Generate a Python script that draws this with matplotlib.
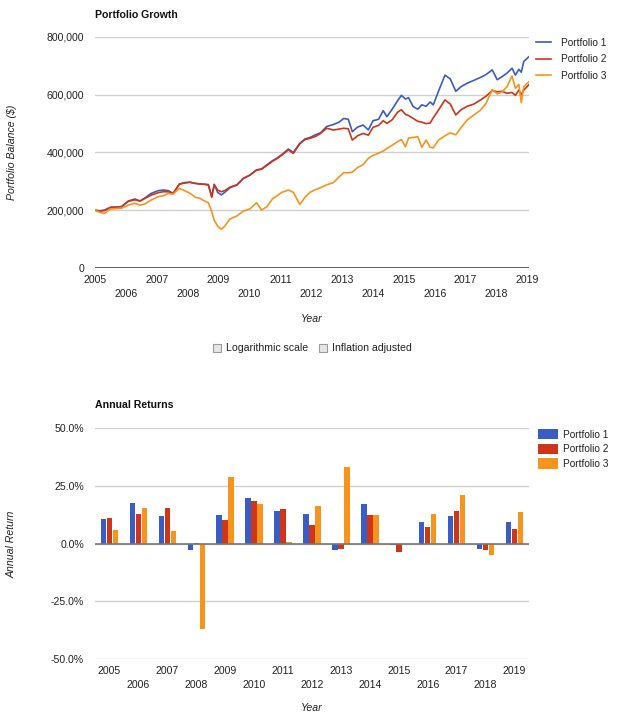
import matplotlib
matplotlib.use("Agg")
import matplotlib.pyplot as plt
from matplotlib.patches import Rectangle, Patch
from matplotlib.ticker import FuncFormatter

plt.rcParams['font.family'] = ['Liberation Sans', 'DejaVu Sans']

# Portfolio growth (values in $1000)
dates = [2005.00, 2005.15, 2005.30, 2005.50, 2005.70, 2005.86, 2006.08, 2006.29, 2006.46, 2006.62,
         2006.83, 2007.05, 2007.21, 2007.37, 2007.53, 2007.73, 2007.90, 2008.07, 2008.25, 2008.40,
         2008.55, 2008.67, 2008.78, 2008.86, 2008.97, 2009.09, 2009.20, 2009.37, 2009.59, 2009.80,
         2010.02, 2010.23, 2010.39, 2010.56, 2010.75, 2010.88, 2011.05, 2011.26, 2011.42, 2011.63,
         2011.80, 2011.96, 2012.15, 2012.30, 2012.50, 2012.72, 2012.90, 2013.05, 2013.20, 2013.33,
         2013.50, 2013.68, 2013.85, 2014.00, 2014.18, 2014.33, 2014.45, 2014.62, 2014.80, 2014.92,
         2015.05, 2015.15, 2015.30, 2015.45, 2015.58, 2015.72, 2015.85, 2015.95, 2016.12, 2016.33,
         2016.50, 2016.68, 2016.85, 2017.05, 2017.27, 2017.48, 2017.66, 2017.86, 2018.02, 2018.18,
         2018.34, 2018.50, 2018.61, 2018.72, 2018.80, 2018.88, 2019.05]
p1 = [200, 198, 200, 210, 211, 213, 232, 239, 232, 243,
      259, 268, 270, 268, 258, 290, 296, 297, 293, 291,
      290, 289, 247, 290, 262, 253, 262, 278, 287, 310,
      322, 340, 343, 357, 372, 380, 393, 412, 400, 432,
      447, 452, 462, 468, 490, 497, 505, 518, 515, 472,
      488, 495, 478, 510, 515, 545, 524, 550, 580, 598,
      585, 590, 559, 550, 565, 560, 575, 565, 612, 668,
      655, 612, 628, 640, 650, 660, 670, 686, 652, 663,
      675, 692, 668, 688, 678, 715, 732]
p2 = [200, 197, 199, 210, 211, 212, 231, 236, 232, 241,
      253, 261, 264, 264, 258, 291, 294, 297, 293, 291,
      290, 287, 245, 288, 270, 264, 268, 280, 288, 310,
      322, 339, 342, 355, 370, 378, 391, 409, 397, 430,
      445, 449, 456, 466, 484, 478, 481, 484, 482, 443,
      458, 466, 460, 487, 494, 510, 501, 513, 540, 548,
      532, 528, 518, 508, 505, 500, 502, 520, 547, 582,
      568, 530, 548, 560, 568, 582, 595, 615, 610, 612,
      605, 608, 598, 616, 600, 616, 635]
p3 = [200, 193, 189, 204, 206, 207, 218, 224, 218, 222,
      236, 247, 250, 258, 256, 276, 268, 259, 245, 241,
      232, 226, 195, 165, 145, 134, 145, 170, 180, 197,
      205, 226, 201, 212, 240, 249, 262, 270, 262, 220,
      245, 262, 272, 278, 288, 296, 315, 330, 330, 332,
      348, 358, 380, 390, 398, 405, 414, 425, 438, 445,
      420, 450, 452, 455, 418, 443, 418, 416, 443, 458,
      468, 461, 486, 513, 530, 547, 570, 618, 603, 610,
      628, 665, 622, 636, 573, 628, 645]

# Annual returns (%)
years = list(range(2005, 2020))
ret1 = [10.5, 17.6, 11.8, -3.0, 12.3, 19.9, 14.2, 12.9, -3.0, 17.3, -0.7, 9.5, 12.1, -2.5, 9.2]
ret2 = [11.0, 12.9, 15.2, 0.4, 10.3, 18.5, 14.9, 8.2, -2.5, 12.4, -3.8, 7.2, 14.0, -2.7, 6.4]
ret3 = [5.9, 15.5, 5.3, -37.0, 28.8, 17.3, 0.7, 16.3, 33.2, 12.4, -0.3, 12.9, 20.8, -5.1, 13.7]

names = ["Portfolio 1", "Portfolio 2", "Portfolio 3"]
colors = ["#3a5cc5", "#d03419", "#f7941d"]
grid_c = "#d0d0d0"
txt_c = "#222222"
fs = 7.6
lfs = 7.3

W, H = 617, 726
fig = plt.figure(figsize=(W / 100, H / 100), dpi=100)


def fx(px):
    return px / W


def fy(py):
    return 1 - py / H


def year_labels(ys):
    return [str(y) if (y - 2005) % 2 == 0 else "\n" + str(y) for y in ys]


def style_axes(ax):
    for s in ["top", "right", "left", "bottom"]:
        ax.spines[s].set_visible(False)
    ax.tick_params(length=0, labelsize=fs, colors=txt_c)
    ax.tick_params(axis="y", pad=8)
    ax.tick_params(axis="x", pad=5)
    ax.grid(axis="y", color=grid_c, lw=1)
    ax.set_axisbelow(True)


# ---- Portfolio growth ----
ax1 = fig.add_axes([fx(95), fy(268), fx(434), 231 / H])
style_axes(ax1)
for vals, c, n in zip([p1, p2, p3], colors, names):
    ax1.plot(dates, [v * 1000 for v in vals], color=c, lw=1.2, label=n)
ax1.set_ylim(0, 800000)
ax1.set_yticks(range(0, 800001, 200000))
ax1.yaxis.set_major_formatter(FuncFormatter(lambda v, p: "{:,.0f}".format(v)))
ax1.set_xlim(2005, 2019.05)
ax1.set_xticks(years)
ax1.set_xticklabels(year_labels(years), linespacing=1.45)
ax1.axhline(0, color="#444444", lw=1.2)
ax1.set_xlabel("Year", style="italic", fontsize=fs, color=txt_c, labelpad=11)
fig.text(fx(12), fy(152), "Portfolio Balance ($)", rotation=90, style="italic", fontsize=fs,
         color=txt_c, ha="center", va="center")
ax1.legend(loc="upper left", bbox_to_anchor=(0.995, 1.035), frameon=False, fontsize=lfs,
           handlelength=1.5, handletextpad=0.95, labelspacing=0.62, labelcolor=txt_c)
fig.text(fx(95), fy(15), "Portfolio Growth", fontsize=fs, weight="bold", color="#111111", va="center")

# checkboxes under the growth chart
for bx, label in [(213, "Logarithmic scale"), (319, "Inflation adjusted")]:
    fig.patches.append(Rectangle((fx(bx), fy(352)), fx(8), 8 / H, transform=fig.transFigure,
                                 facecolor="#e6e6e6", edgecolor="#9a9a9a", lw=0.8))
    fig.text(fx(bx + 13), fy(348), label, fontsize=fs, color=txt_c, va="center")

# ---- Annual returns ----
ax2 = fig.add_axes([fx(95), fy(659), fx(434), 231 / H])
style_axes(ax2)
xs = list(range(len(years)))
bw = 0.19
for k, (vals, c, n) in enumerate(zip([ret1, ret2, ret3], colors, names)):
    ax2.bar([x + (k - 1) * 0.207 for x in xs], vals, width=bw, color=c, label=n)
ax2.set_ylim(-50, 50)
ax2.set_yticks([-50, -25, 0, 25, 50])
ax2.yaxis.set_major_formatter(FuncFormatter(lambda v, p: "{:.1f}%".format(v)))
ax2.set_xlim(-0.5, len(years) - 0.5)
ax2.set_xticks(xs)
ax2.set_xticklabels(year_labels(years), linespacing=1.45)
ax2.axhline(0, color="#777777", lw=1.2)
ax2.set_xlabel("Year", style="italic", fontsize=fs, color=txt_c, labelpad=10)
fig.text(fx(12), fy(544), "Annual Return", rotation=90, style="italic", fontsize=fs,
         color=txt_c, ha="center", va="center")
handles = [Patch(facecolor=c, label=n) for c, n in zip(colors, names)]
ax2.legend(handles=handles, loc="upper left", bbox_to_anchor=(1.0, 1.035), frameon=False,
           fontsize=lfs, handlelength=2.0, handleheight=1.2, handletextpad=0.45,
           labelspacing=0.4, labelcolor=txt_c)
fig.text(fx(95), fy(405), "Annual Returns", fontsize=fs, weight="bold", color="#111111", va="center")

fig.savefig("out.png", dpi=100)
